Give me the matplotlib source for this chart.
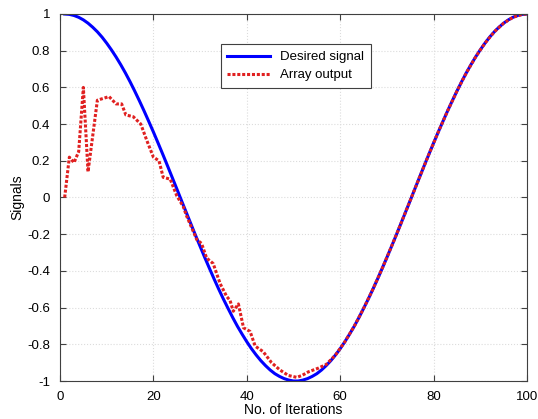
import matplotlib.pyplot as plt

plt.rcParams['font.family'] = ['Liberation Sans', 'DejaVu Sans']

# --- data ---
desired_x = list(range(1, 101))
desired_y = [1.000, 0.998, 0.992, 0.982, 0.968, 0.950, 0.928, 0.903, 0.874, 0.841,
             0.805, 0.766, 0.724, 0.679, 0.631, 0.580, 0.527, 0.472, 0.415, 0.357,
             0.297, 0.236, 0.174, 0.111, 0.048, -0.016, -0.079, -0.142, -0.205, -0.266,
             -0.327, -0.386, -0.444, -0.500, -0.554, -0.605, -0.655, -0.702, -0.745, -0.786,
             -0.824, -0.858, -0.889, -0.916, -0.940, -0.960, -0.975, -0.987, -0.995, -1.000,
             -1.000, -0.995, -0.987, -0.975, -0.960, -0.940, -0.916, -0.889, -0.858, -0.824,
             -0.786, -0.745, -0.702, -0.655, -0.605, -0.554, -0.500, -0.444, -0.386, -0.327,
             -0.266, -0.205, -0.142, -0.079, -0.016, 0.048, 0.111, 0.174, 0.236, 0.297,
             0.357, 0.415, 0.472, 0.527, 0.580, 0.631, 0.679, 0.724, 0.766, 0.805,
             0.841, 0.874, 0.903, 0.928, 0.950, 0.968, 0.982, 0.992, 0.998, 1.000]

array_x = [1, 2, 3, 4, 5, 6, 8, 10.5, 12, 13.2, 14.1, 15.7, 17.3, 18.6, 20, 21.2, 22.1,
           23.6, 25, 26.4, 27.1, 29.3, 30.3, 31.4, 32.8, 34.3, 35.7, 36.4, 37.1, 38.2,
           39.3, 40.7, 41.8, 43.5, 45.3, 47.1, 48.9, 50.7, 51.8, 53.2, 55.3, 57, 59, 61,
           63, 65, 67, 69, 71, 73, 75, 77, 79, 81, 83, 85, 87, 89, 91, 93, 95, 97, 99, 100]
array_y = [0.00, 0.22, 0.19, 0.25, 0.60, 0.14, 0.53, 0.55, 0.51, 0.51, 0.45, 0.44, 0.40,
           0.31, 0.22, 0.20, 0.11, 0.10, 0.01, -0.05, -0.10, -0.23, -0.25, -0.33, -0.36,
           -0.47, -0.54, -0.56, -0.62, -0.58, -0.71, -0.73, -0.81, -0.84, -0.90, -0.94,
           -0.97, -0.98, -0.97, -0.95, -0.93, -0.91, -0.858, -0.786, -0.702, -0.605,
           -0.500, -0.386, -0.266, -0.142, -0.016, 0.111, 0.236, 0.357, 0.472, 0.580,
           0.679, 0.766, 0.841, 0.903, 0.950, 0.982, 0.998, 1.000]

x_ticks = [0, 20, 40, 60, 80, 100]
y_ticks = [-1, -0.8, -0.6, -0.4, -0.2, 0, 0.2, 0.4, 0.6, 0.8, 1]
y_labels = ['-1', '-0.8', '-0.6', '-0.4', '-0.2', '0', '0.2', '0.4', '0.6', '0.8', '1']

fig = plt.figure(figsize=(5.38, 4.19), dpi=100)
ax = fig.add_axes([60 / 538, 1 - 381 / 419, 467 / 538, 367 / 419])

ax.plot(desired_x, desired_y, color='#0000ff', linewidth=2.2, label='Desired signal')
ax.plot(array_x, array_y, color='#e02020', linewidth=2.2, linestyle=(0, (1, 0.6)),
        label='Array output')

ax.set_xlim(0, 100)
ax.set_ylim(-1, 1)
ax.set_xticks(x_ticks)
ax.set_yticks(y_ticks)
ax.set_yticklabels(y_labels)
ax.tick_params(direction='in', top=True, right=True, labelsize=9.5, length=4,
               color='#404040')
ax.tick_params(axis='x', pad=7)
ax.tick_params(axis='y', pad=7)
ax.grid(True, color='#dcdcdc', linestyle=':', linewidth=0.8)
for s in ax.spines.values():
    s.set_color('#404040')
    s.set_linewidth(0.8)

ax.set_xlabel('No. of Iterations', fontsize=10, labelpad=0)
ax.set_ylabel('Signals', fontsize=10, labelpad=2)

leg = ax.legend(loc='upper left', bbox_to_anchor=(0.33, 0.935), fontsize=9.5,
                fancybox=False, edgecolor='#404040', framealpha=1,
                handlelength=3.2, borderpad=0.5, labelspacing=0.45)
leg.get_frame().set_linewidth(0.8)

fig.savefig('out.png', dpi=100)
